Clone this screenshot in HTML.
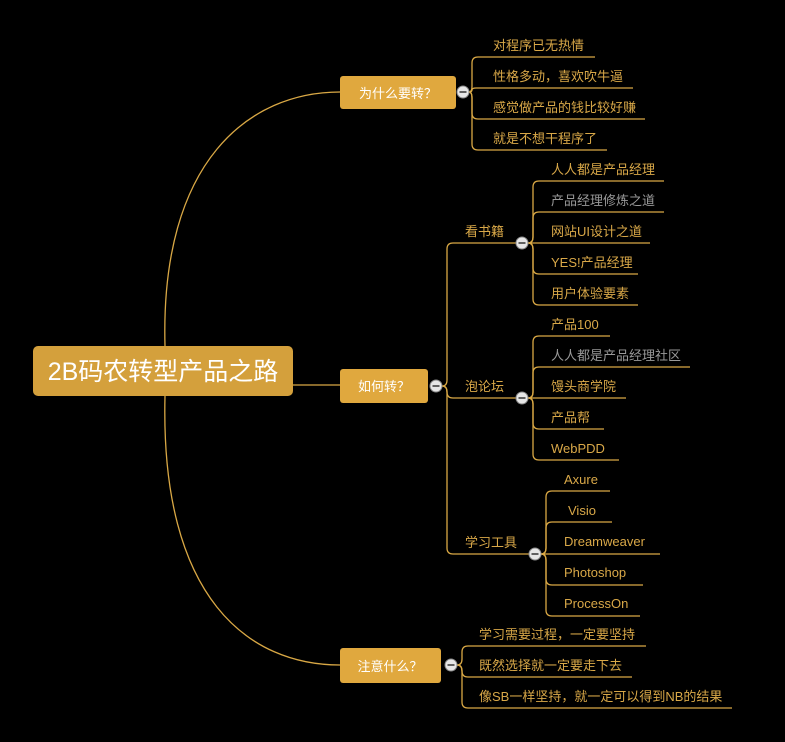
<!DOCTYPE html>
<html><head><meta charset="utf-8"><style>
html,body{margin:0;padding:0;background:#000;width:785px;height:742px;overflow:hidden}
svg text{font-family:"Liberation Sans","Noto Sans CJK SC",sans-serif}
svg text.cjk{font-family:"Noto Sans CJK SC",sans-serif}
</style></head><body>
<svg width="785" height="742" viewBox="0 0 785 742" xmlns="http://www.w3.org/2000/svg">
<g fill="none" stroke="#d9a845" stroke-width="1.3">
<path d="M165,346 C160,160 250,92 340,92"/>
<path d="M165,396 C160,600 250,665 340,665"/>
<path d="M293,385 H340"/>
<path d="M469,92 Q472,92 472,86 V63 Q472,57 478,57 H595"/>
<path d="M469,92 Q472,92 472,90 Q472,88 476,88 H633"/>
<path d="M469,92 Q472,92 472,98 V113 Q472,119 478,119 H645"/>
<path d="M469,92 Q472,92 472,98 V144 Q472,150 478,150 H607"/>
<path d="M442,386 Q447,386 447,380 V249 Q447,243 453,243 H516"/>
<path d="M442,386 Q447,386 447,392 Q447,398 453,398 H516"/>
<path d="M442,386 Q447,386 447,392 V548 Q447,554 453,554 H529"/>
<path d="M528,243 Q533,243 533,237 V187 Q533,181 539,181 H664"/>
<path d="M528,243 Q533,243 533,237 V218 Q533,212 539,212 H664"/>
<path d="M528,243 H650"/>
<path d="M528,243 Q533,243 533,249 V268 Q533,274 539,274 H638"/>
<path d="M528,243 Q533,243 533,249 V299 Q533,305 539,305 H638"/>
<path d="M528,398 Q533,398 533,392 V342 Q533,336 539,336 H610"/>
<path d="M528,398 Q533,398 533,392 V373 Q533,367 539,367 H690"/>
<path d="M528,398 H626"/>
<path d="M528,398 Q533,398 533,404 V423 Q533,429 539,429 H604"/>
<path d="M528,398 Q533,398 533,404 V454 Q533,460 539,460 H619"/>
<path d="M541,554 Q546,554 546,548 V497 Q546,491 552,491 H610"/>
<path d="M541,554 Q546,554 546,548 V528 Q546,522 552,522 H612"/>
<path d="M541,554 H660"/>
<path d="M541,554 Q546,554 546,560 V579 Q546,585 552,585 H643"/>
<path d="M541,554 Q546,554 546,560 V610 Q546,616 552,616 H640"/>
<path d="M457,665 Q462,665 462,659 V652 Q462,646 468,646 H646"/>
<path d="M457,665 Q462,665 462,671 Q462,677 468,677 H632"/>
<path d="M457,665 Q462,665 462,671 V702 Q462,708 468,708 H732"/>
</g>
<rect x="33" y="346" width="260" height="50" rx="5" fill="#d4a03c"/>
<text x="163" y="380" font-size="25" fill="#fff" text-anchor="middle">2B码农转型产品之路</text>
<rect x="340" y="76" width="116" height="33" rx="3" fill="#e0a83e"/>
<text class="cjk" x="398" y="98" font-size="13" fill="#fff" text-anchor="middle">为什么要转？</text>
<rect x="340" y="369" width="88" height="34" rx="3" fill="#e0a83e"/>
<text class="cjk" x="384" y="391" font-size="13" fill="#fff" text-anchor="middle">如何转？</text>
<rect x="340" y="648" width="101" height="35" rx="3" fill="#e0a83e"/>
<text class="cjk" x="390" y="671" font-size="13" fill="#fff" text-anchor="middle">注意什么？</text>
<g fill="#e6e6e6" stroke="#888" stroke-width="1">
<circle cx="463" cy="92" r="6"/><circle cx="436" cy="386" r="6"/><circle cx="451" cy="665" r="6"/>
<circle cx="522" cy="243" r="6"/><circle cx="522" cy="398" r="6"/><circle cx="535" cy="554" r="6"/>
</g>
<g stroke="#333" stroke-width="1.5">
<path d="M459.5,92 H466.5"/><path d="M432.5,386 H439.5"/><path d="M447.5,665 H454.5"/>
<path d="M518.5,243 H525.5"/><path d="M518.5,398 H525.5"/><path d="M531.5,554 H538.5"/>
</g>
<g font-size="13" fill="#d9a848">
<text x="493" y="50">对程序已无热情</text>
<text x="493" y="81">性格多动，喜欢吹牛逼</text>
<text x="493" y="112">感觉做产品的钱比较好赚</text>
<text x="493" y="143">就是不想干程序了</text>
<text x="465" y="236">看书籍</text>
<text x="465" y="391">泡论坛</text>
<text x="465" y="547">学习工具</text>
<text x="551" y="174">人人都是产品经理</text>
<text x="551" y="205" fill="#999">产品经理修炼之道</text>
<text x="551" y="236">网站UI设计之道</text>
<text x="551" y="267">YES!产品经理</text>
<text x="551" y="298">用户体验要素</text>
<text x="551" y="329">产品100</text>
<text x="551" y="360" fill="#999">人人都是产品经理社区</text>
<text x="551" y="391">馒头商学院</text>
<text x="551" y="422">产品帮</text>
<text x="551" y="453">WebPDD</text>
<text x="564" y="484">Axure</text>
<text x="568" y="515">Visio</text>
<text x="564" y="546">Dreamweaver</text>
<text x="564" y="577">Photoshop</text>
<text x="564" y="608">ProcessOn</text>
<text x="479" y="639">学习需要过程，一定要坚持</text>
<text x="479" y="670">既然选择就一定要走下去</text>
<text x="479" y="701">像SB一样坚持，就一定可以得到NB的结果</text>
</g>
</svg>
</body></html>
